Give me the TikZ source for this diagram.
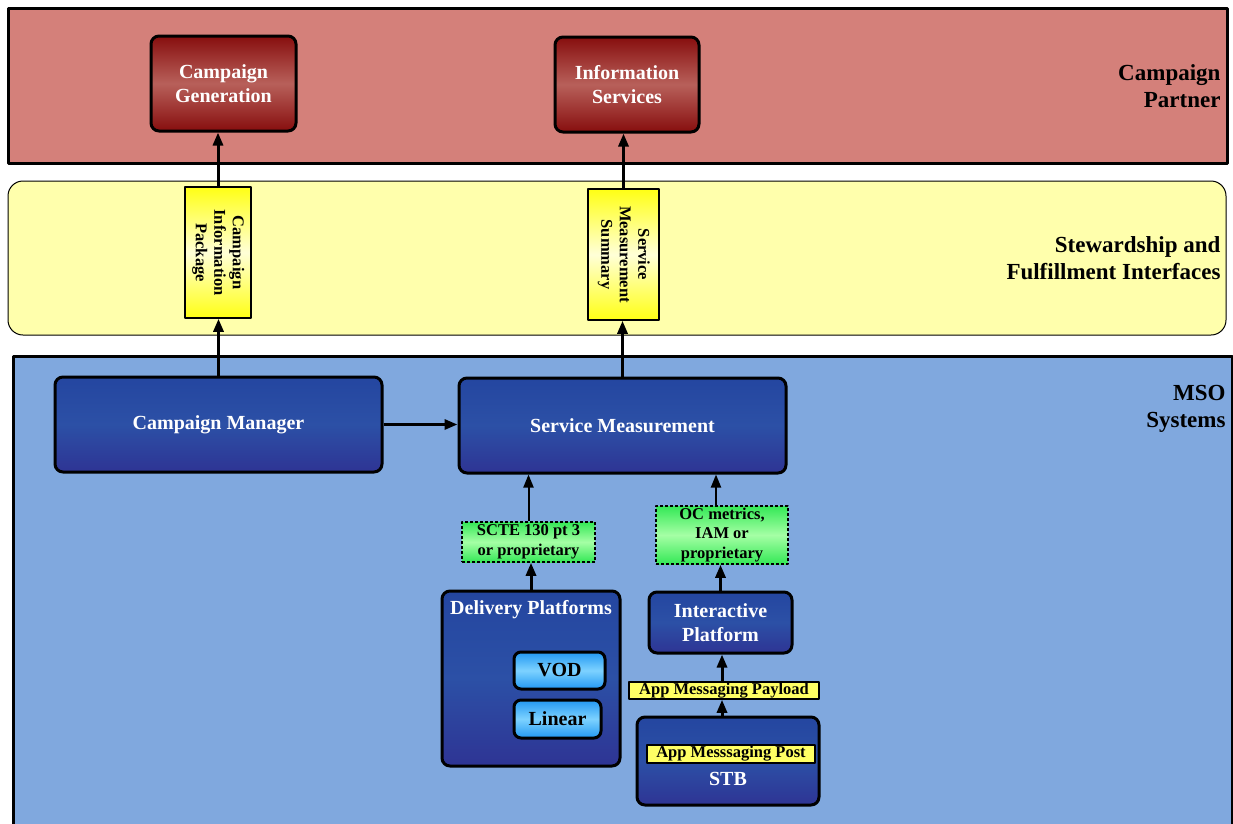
\documentclass[tikz,border=0pt]{standalone}
\usepackage{fontspec}
\setmainfont{Liberation Serif}
\usepackage{graphicx}
\usetikzlibrary{arrows.meta}
\definecolor{partnerred}{RGB}{212,128,122}
\definecolor{stewyellow}{RGB}{255,255,172}
\definecolor{msoblue}{RGB}{128,168,222}
\definecolor{darkred}{RGB}{135,14,14}
\definecolor{midred}{RGB}{184,96,90}
\definecolor{darkblue}{RGB}{36,70,160}
\definecolor{lowblue}{RGB}{46,52,148}
\definecolor{midblue}{RGB}{44,80,166}
\definecolor{skyblue}{RGB}{34,152,242}
\definecolor{paleblue}{RGB}{125,210,255}
\definecolor{greenbox}{RGB}{52,232,86}
\definecolor{palegreen}{RGB}{165,255,165}
\definecolor{labelyellow}{RGB}{255,255,20}
\definecolor{paleyellow}{RGB}{255,255,215}
\definecolor{tagyellow}{RGB}{255,255,100}
\begin{document}
\begin{tikzpicture}[x=1pt,y=-1pt,line join=round,>={Triangle[length=13pt,width=10pt]}]
\tikzset{
  big text/.style={font=\fontsize{20}{23.5}\selectfont\bfseries,align=center},
  band text/.style={font=\fontsize{23}{27}\selectfont\bfseries,align=right,anchor=east},
  small text/.style={font=\fontsize{16.5}{19.5}\selectfont\bfseries,align=center},
  redbox/.style={draw,line width=3pt,rounded corners=8pt,top color=darkred,bottom color=darkred,middle color=midred,text=white,big text},
  bluebox/.style={draw,line width=3pt,rounded corners=8pt,top color=darkblue,bottom color=lowblue,middle color=midblue,text=white,big text},
  lightbox/.style={draw,line width=3pt,rounded corners=7pt,top color=skyblue,bottom color=skyblue,middle color=paleblue,big text},
  ifacebox/.style={draw,line width=1.5pt,top color=labelyellow,bottom color=labelyellow,middle color=paleyellow,inner sep=0pt,font=\fontsize{16.5}{18.5}\selectfont\bfseries},
  protobox/.style={draw,line width=1.5pt,dash pattern=on 3pt off 2pt,top color=greenbox,bottom color=greenbox,middle color=palegreen,inner sep=1pt,small text},
  tagbox/.style={draw,line width=1.5pt,fill=tagyellow,inner sep=0pt,font=\fontsize{16.5}{17}\selectfont\bfseries},
  arr/.style={->,line width=3pt},
  thinarr/.style={->,line width=2pt}
}
\useasboundingbox (0,0) rectangle (1233,823);
\fill[white] (0,0) rectangle (1233,823);
% bands
\draw[line width=3pt,fill=partnerred] (8,8) rectangle (1227,163);
\draw[line width=1pt,fill=stewyellow,rounded corners=15pt] (8,181) rectangle (1226,335);
\draw[line width=3pt,fill=msoblue] (13,356) rectangle (1232,840);
\node[band text] (partner) at (1224,86) {Campaign\\Partner};
\node[band text] (stew) at (1224,258) {Stewardship and\\Fulfillment Interfaces};
\node[band text] (mso) at (1229,409) {MSO\\Systems};
% campaign partner
\node[redbox,minimum width=145,minimum height=95] (cg) at (223.5,83.5) {Campaign\\Generation};
\node[redbox,minimum width=144,minimum height=95] (is) at (627,84.5) {Information\\Services};
% interfaces
\node[ifacebox,minimum width=66,minimum height=131] (cip) at (218,252.5)
  {\rotatebox{-90}{\begin{tabular}{@{}c@{}}Campaign\\Information\\Package\end{tabular}}};
\node[ifacebox,minimum width=71,minimum height=131] (sms) at (623.5,254.5)
  {\rotatebox{-90}{\begin{tabular}{@{}c@{}}Service\\Measurement\\Summary\end{tabular}}};
% mso systems
\node[bluebox,minimum width=327,minimum height=95] (cm) at (218.5,424.5) {Campaign Manager};
\node[bluebox,minimum width=327,minimum height=95] (sm) at (622.5,425.5) {Service Measurement};
\node[protobox,minimum width=133,minimum height=40] (scte) at (528.5,542) {SCTE 130 pt 3\\or proprietary};
\node[protobox,minimum width=132,minimum height=58] (oc) at (722,535) {OC metrics,\\IAM or\\proprietary};
\node[bluebox,minimum width=178,minimum height=175] (dp) at (531,678.5) {};
\node[big text,text=white,anchor=base] (dptext) at ([yshift=-25]dp.north) {Delivery Platforms};
\node[lightbox,minimum width=91,minimum height=37] (vod) at (559.5,670.5) {VOD};
\node[lightbox,minimum width=87,minimum height=38] (lin) at (557.5,719) {Linear};
\node[bluebox,minimum width=143,minimum height=61] (ip) at (720.5,622.5) {Interactive\\Platform};
\node[tagbox,minimum width=190,minimum height=17] (amp) at (724,690.5) {App Messaging Payload};
\node[bluebox,minimum width=182,minimum height=88] (stb) at (728,761) {};
\node[tagbox,minimum width=168,minimum height=18] (post) at (731,754) {App Messsaging Post};
\node[big text,text=white,anchor=base] (stbtext) at ([yshift=-70]stb.north) {STB};
% connectors
\draw[arr] (cm.north) -- (cm.north |- cip.south);
\draw[arr] (cip.north) -- (cip.north |- cg.south);
\draw[arr] (sm.north) -- (sm.north |- sms.south);
\draw[arr] (sms.north) -- (sms.north |- is.south);
\draw[arr] (cm.east) -- (cm.east -| sm.west);
\draw[thinarr] (scte.north) -- (scte.north |- sm.south);
\draw[arr] (dp.north) -- (dp.north |- scte.south);
\draw[thinarr] ([xshift=-6]oc.north) -- ([xshift=-6]oc.north |- sm.south);
\draw[arr] (ip.north) -- (ip.north |- oc.south);
\draw[arr] ([xshift=-2]amp.north) -- ([xshift=-2]amp.north |- ip.south);
\draw[arr] ([xshift=-2]amp.south |- stb.north) -- ([xshift=-2]amp.south);
\end{tikzpicture}
\end{document}
